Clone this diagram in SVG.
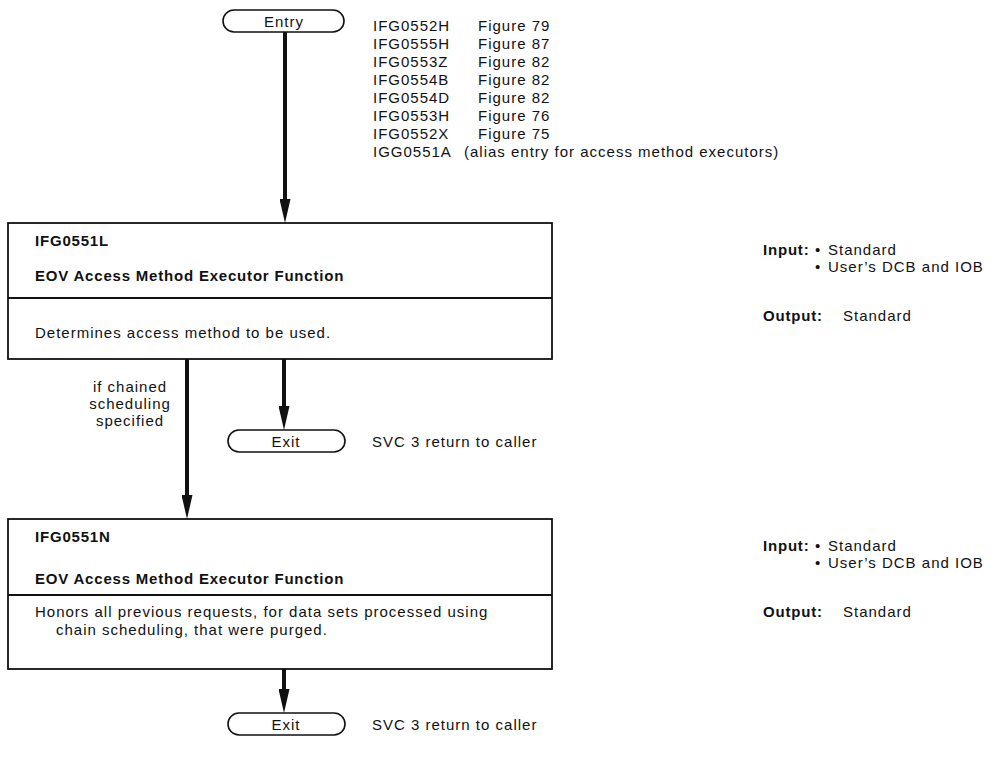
<svg xmlns="http://www.w3.org/2000/svg" width="996" height="763" viewBox="0 0 996 763">
  <defs>
    <style>
      .t{font-family:"Liberation Sans",Arial,Helvetica,sans-serif;font-size:15px;letter-spacing:1px;fill:#111}
      .b{font-weight:bold;letter-spacing:0.8px}
      .mid{text-anchor:middle}
      .frame{fill:#fff;stroke:#111;stroke-width:1.8}
      .rule{stroke:#111;stroke-width:1.8}
      .pill{fill:#fff;stroke:#111;stroke-width:1.6}
      .wire{stroke:#111;stroke-width:4;fill:none}
    </style>
    <!-- long narrow filled arrowhead; the line stops 16px short of the tip -->
    <marker id="arrow" markerUnits="userSpaceOnUse" viewBox="0 0 24 11" markerWidth="24" markerHeight="11" refX="8" refY="5.5" orient="auto">
      <path d="M0,0 L24,5.5 L0,11 z" fill="#111"/>
    </marker>
  </defs>
  <rect width="996" height="763" fill="#fff"/>

  <!-- connectors -->
  <g id="connectors">
    <line class="wire" x1="285" y1="32" x2="285" y2="207" marker-end="url(#arrow)"/>
    <line class="wire" x1="187" y1="359" x2="187" y2="503" marker-end="url(#arrow)"/>
    <line class="wire" x1="284" y1="359" x2="284" y2="414" marker-end="url(#arrow)"/>
    <line class="wire" x1="284" y1="669" x2="284" y2="697" marker-end="url(#arrow)"/>
    <g class="t mid">
      <text x="130" y="392">if chained</text>
      <text x="130" y="409">scheduling</text>
      <text x="130" y="426">specified</text>
    </g>
  </g>

  <!-- entry terminal -->
  <g id="entry">
    <rect class="pill" x="223" y="10" width="121" height="22" rx="11"/>
    <text class="t mid" x="284" y="27">Entry</text>
  </g>

  <!-- entry points and the figures that show them -->
  <g id="entry-points" class="t">
    <text x="373" y="30.5">IFG0552H</text><text x="478" y="30.5">Figure 79</text>
    <text x="373" y="48.5">IFG0555H</text><text x="478" y="48.5">Figure 87</text>
    <text x="373" y="66.5">IFG0553Z</text><text x="478" y="66.5">Figure 82</text>
    <text x="373" y="84.5">IFG0554B</text><text x="478" y="84.5">Figure 82</text>
    <text x="373" y="102.5">IFG0554D</text><text x="478" y="102.5">Figure 82</text>
    <text x="373" y="120.5">IFG0553H</text><text x="478" y="120.5">Figure 76</text>
    <text x="373" y="138.5">IFG0552X</text><text x="478" y="138.5">Figure 75</text>
    <text x="373" y="156.5">IGG0551A</text><text x="464" y="156.5">(alias entry for access method executors)</text>
  </g>

  <!-- module IFG0551L -->
  <g id="ifg0551l">
    <rect class="frame" x="8" y="223" width="544" height="136"/>
    <line class="rule" x1="8" y1="298" x2="552" y2="298"/>
    <text class="t b" x="35" y="246">IFG0551L</text>
    <text class="t b" x="35" y="281">EOV Access Method Executor Function</text>
    <text class="t" x="35" y="337.5">Determines access method to be used.</text>
  </g>
  <g id="io-ifg0551l" class="t">
    <text class="b" x="763" y="255">Input:</text>
    <text x="815" y="255">•</text><text x="828" y="255">Standard</text>
    <text x="815" y="272">•</text><text x="828" y="272">User’s DCB and IOB</text>
    <text class="b" x="763" y="321">Output:</text>
    <text x="843" y="321">Standard</text>
  </g>

  <!-- first exit -->
  <g id="exit-1">
    <rect class="pill" x="228" y="430" width="117" height="22" rx="11"/>
    <text class="t mid" x="286" y="446.5">Exit</text>
    <text class="t" x="372" y="446.5">SVC 3  return to caller</text>
  </g>

  <!-- module IFG0551N -->
  <g id="ifg0551n">
    <rect class="frame" x="8" y="519" width="544" height="150"/>
    <line class="rule" x1="8" y1="595" x2="552" y2="595"/>
    <text class="t b" x="35" y="542">IFG0551N</text>
    <text class="t b" x="35" y="583.5">EOV Access Method Executor Function</text>
    <text class="t" x="35" y="617">Honors all previous requests, for data sets processed using</text>
    <text class="t" x="56" y="635">chain scheduling, that were purged.</text>
  </g>
  <g id="io-ifg0551n" class="t">
    <text class="b" x="763" y="551">Input:</text>
    <text x="815" y="551">•</text><text x="828" y="551">Standard</text>
    <text x="815" y="568">•</text><text x="828" y="568">User’s DCB and IOB</text>
    <text class="b" x="763" y="617">Output:</text>
    <text x="843" y="617">Standard</text>
  </g>

  <!-- second exit -->
  <g id="exit-2">
    <rect class="pill" x="228" y="713" width="117" height="22" rx="11"/>
    <text class="t mid" x="286" y="729.5">Exit</text>
    <text class="t" x="372" y="729.5">SVC 3  return to caller</text>
  </g>
</svg>
